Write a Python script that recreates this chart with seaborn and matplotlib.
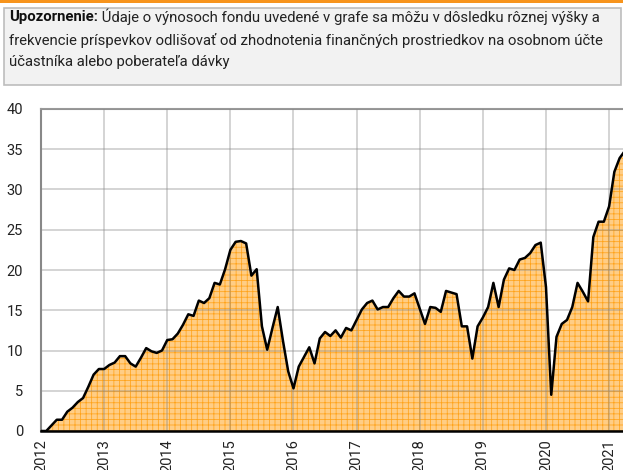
import matplotlib
matplotlib.use("Agg")
import matplotlib.pyplot as plt
import seaborn as sns
import numpy as np
import pandas as pd
from matplotlib.patches import Rectangle

# ---- data (monthly values, %) ----
v2012 = [0.0, 0.0, 0.7, 1.4, 1.4, 2.4, 2.9, 3.6, 4.1, 5.5, 7.0, 7.7]
v2013 = [7.7, 8.2, 8.5, 9.3, 9.3, 8.4, 8.0, 9.1, 10.3, 9.9, 9.7, 10.0]
v2014 = [11.3, 11.4, 12.1, 13.2, 14.5, 14.3, 16.2, 15.9, 16.5, 18.4, 18.2, 20.1]
v2015 = [22.5, 23.5, 23.6, 23.3, 19.3, 20.1, 13.0, 10.1, 12.8, 15.4, 11.2, 7.4]
v2016 = [5.3, 8.0, 9.2, 10.4, 8.4, 11.5, 12.3, 11.8, 12.5, 11.6, 12.8, 12.5]
v2017 = [13.8, 15.1, 15.9, 16.2, 15.1, 15.4, 15.4, 16.5, 17.4, 16.7, 16.7, 17.1]
v2018 = [15.2, 13.3, 15.4, 15.3, 14.8, 17.4, 17.2, 17.0, 13.0, 13.0, 9.0, 13.0]
v2019 = [14.1, 15.4, 18.4, 15.4, 18.8, 20.2, 20.0, 21.3, 21.5, 22.1, 23.1, 23.4]
v2020 = [17.9, 4.5, 11.7, 13.3, 13.8, 15.4, 18.4, 17.3, 16.1, 24.1, 26.0, 26.0]
v2021 = [27.9, 32.2, 33.9, 34.8, 35.5]

values = v2012 + v2013 + v2014 + v2015 + v2016 + v2017 + v2018 + v2019 + v2020 + v2021
start_year = 2012
years = list(range(2012, 2022))
y_ticks = [0, 5, 10, 15, 20, 25, 30, 35, 40]

note_bold = "Upozornenie:"
note_line1 = " Údaje o výnosoch fondu uvedené v grafe sa môžu v dôsledku rôznej výšky a"
note_line2 = "frekvencie príspevkov odlišovať od zhodnotenia finančných prostriedkov na osobnom účte"
note_line3 = "účastníka alebo poberateľa dávky"

df = pd.DataFrame({
    "t": [start_year + i / 12 for i in range(len(values))],
    "v": values,
})

sns.set_theme(style="white")
plt.rcParams["font.family"] = ["Roboto", "DejaVu Sans"]
plt.rcParams["hatch.linewidth"] = 0.55

fig = plt.figure(figsize=(6.23, 4.70), dpi=100)
ax = fig.add_axes([41 / 623, 1 - 431 / 470, 1 - 41 / 623 + 0.001, (431 - 109) / 470])

ax.fill_between(df["t"], 0, df["v"], facecolor="#FFCD85", edgecolor="#FFA31A",
                hatch="+++", linewidth=0, zorder=1)
sns.lineplot(data=df, x="t", y="v", ax=ax, color="black", linewidth=1.8, zorder=3)

ax.set_xlim(2012, 2021.23)
ax.set_ylim(0, 40)
ax.set_xticks(years)
ax.set_xticklabels([str(y) for y in years], rotation=90)
ax.set_yticks(y_ticks)
ax.set_yticklabels([str(y) for y in y_ticks])
ax.set_xlabel("")
ax.set_ylabel("")

ax.grid(True, color="#888888", alpha=0.45, linewidth=1.1, zorder=2)
ax.set_axisbelow(False)
for l in ax.get_xgridlines() + ax.get_ygridlines():
    l.set_zorder(2)

ax.tick_params(axis="both", length=0, labelsize=10.5, colors="#222222")
ax.tick_params(axis="y", pad=13)
ax.tick_params(axis="x", pad=6)

ax.spines["left"].set_color("#888888")
ax.spines["left"].set_linewidth(1.5)
ax.spines["top"].set_color("#999999")
ax.spines["top"].set_linewidth(1.5)
ax.spines["bottom"].set_color("black")
ax.spines["bottom"].set_linewidth(1.8)
ax.spines["bottom"].set_zorder(4)
ax.spines["right"].set_visible(False)

# ---- top orange line and note box ----
fig.patches.append(Rectangle((0, 1 - 2.5 / 470), 1, 2.5 / 470, transform=fig.transFigure,
                             facecolor="#F7941D", edgecolor="none"))
fig.patches.append(Rectangle((3.5 / 623, 1 - 85 / 470), 617 / 623, 77 / 470,
                             transform=fig.transFigure, facecolor="#F2F2F2",
                             edgecolor="#BDBDBD", linewidth=1.2))

fs = 10.7
x0 = 9 / 623
tb = fig.text(x0, 1 - 17 / 470, note_bold, fontsize=fs, fontweight="bold",
              va="center", ha="left", color="#111111")
fig.canvas.draw()
r = fig.canvas.get_renderer()
bb = tb.get_window_extent(renderer=r)
fig.text(bb.x1 / fig.bbox.width, 1 - 17 / 470, note_line1, fontsize=fs,
         va="center", ha="left", color="#222222")
fig.text(x0, 1 - 40 / 470, note_line2, fontsize=fs, va="center", ha="left", color="#222222")
fig.text(x0, 1 - 62 / 470, note_line3, fontsize=fs, va="center", ha="left", color="#222222")

fig.savefig("out.png", dpi=100)
